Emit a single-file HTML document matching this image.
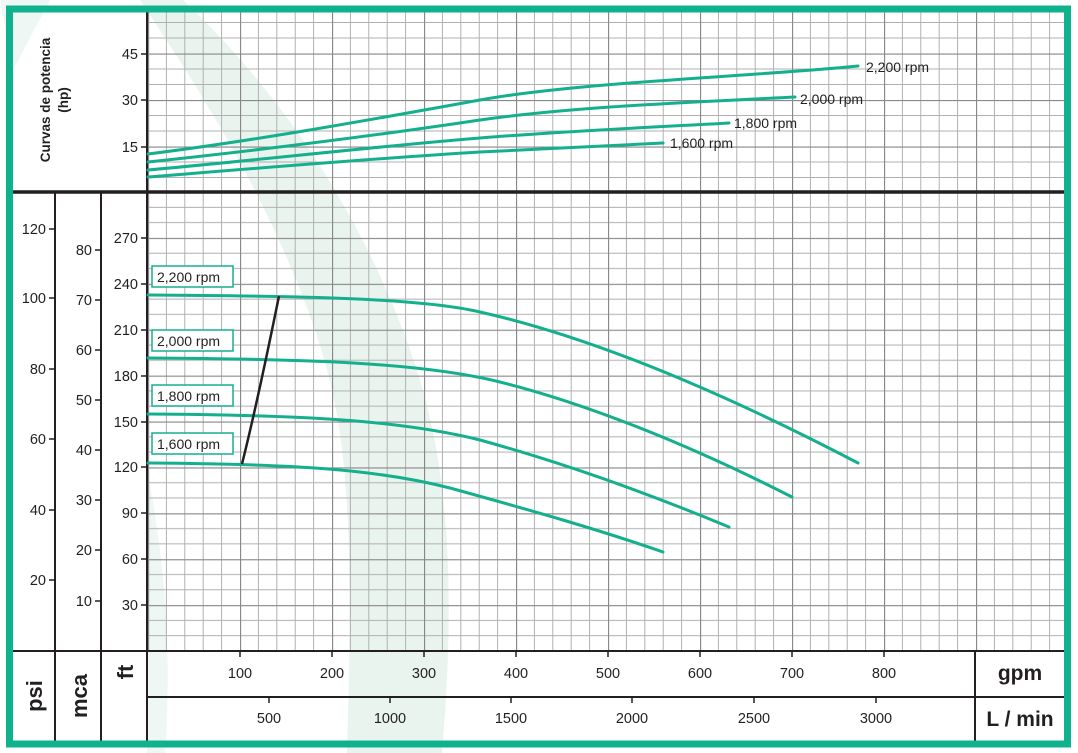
<!DOCTYPE html>
<html><head><meta charset="utf-8"><style>
html,body{margin:0;padding:0;background:#fff}
svg{display:block;font-family:"Liberation Sans",Arial,sans-serif}
</style></head><body>
<svg width="1078" height="753" viewBox="0 0 1078 753" xmlns="http://www.w3.org/2000/svg">
<defs>
<pattern id="gl" x="148" y="651" width="92" height="45.9" patternUnits="userSpaceOnUse">
<g stroke="#b0b0b0" stroke-width="1">
<line x1="18.4" y1="0" x2="18.4" y2="45.9"/><line x1="36.8" y1="0" x2="36.8" y2="45.9"/><line x1="55.2" y1="0" x2="55.2" y2="45.9"/><line x1="73.6" y1="0" x2="73.6" y2="45.9"/>
<line x1="0" y1="15.3" x2="92" y2="15.3"/><line x1="0" y1="30.6" x2="92" y2="30.6"/>
</g>
<g stroke="#888" stroke-width="1.3"><line x1="0.5" y1="0" x2="0.5" y2="45.9"/><line x1="0" y1="0.5" x2="92" y2="0.5"/></g>
</pattern>
<pattern id="gt" x="148" y="193" width="92" height="46.5" patternUnits="userSpaceOnUse">
<g stroke="#b0b0b0" stroke-width="1">
<line x1="18.4" y1="0" x2="18.4" y2="46.5"/><line x1="36.8" y1="0" x2="36.8" y2="46.5"/><line x1="55.2" y1="0" x2="55.2" y2="46.5"/><line x1="73.6" y1="0" x2="73.6" y2="46.5"/>
<line x1="0" y1="15.5" x2="92" y2="15.5"/><line x1="0" y1="31" x2="92" y2="31"/>
</g>
<g stroke="#888" stroke-width="1.3"><line x1="0.5" y1="0" x2="0.5" y2="46.5"/><line x1="0" y1="0.5" x2="92" y2="0.5"/></g>
</pattern>
</defs>
<rect x="0" y="0" width="1078" height="753" fill="#fff"/>
<!-- watermark band -->
<path d="M140 0 C 200 90, 270 200, 315 330 C 345 420, 355 500, 347 753 L 442 753 C 455 600, 450 480, 420 380 C 380 250, 300 110, 183 0 Z" fill="#e9f4ef"/>
<path d="M147 470 C 165 560, 172 650, 165 753 L 147 753 Z" fill="#eef7f3"/>
<path d="M0 0 L 50 0 L 13 70 Z" fill="#eef7f3"/>
<!-- grids -->
<rect x="148" y="12" width="916" height="180" fill="url(#gt)"/>
<rect x="148" y="193" width="916" height="458" fill="url(#gl)"/>
<!-- structure lines -->
<g stroke="#231f20" stroke-width="2" fill="none">
<line x1="147" y1="12" x2="147" y2="741"/>
<line x1="55" y1="192" x2="55" y2="741"/>
<line x1="101" y1="192" x2="101" y2="741"/>
<line x1="13" y1="651" x2="1064" y2="651"/>
<line x1="147" y1="697" x2="1064" y2="697"/>
<line x1="975" y1="651" x2="975" y2="741"/>
</g>
<line x1="13" y1="192" x2="1064" y2="192" stroke="#231f20" stroke-width="3.5"/>
<!-- ticks -->
<g stroke="#231f20" stroke-width="1.5">
<line x1="141" y1="54" x2="147" y2="54"/><line x1="141" y1="100" x2="147" y2="100"/><line x1="141" y1="147" x2="147" y2="147"/>
<line x1="49" y1="229" x2="55" y2="229"/><line x1="49" y1="298" x2="55" y2="298"/><line x1="49" y1="369" x2="55" y2="369"/><line x1="49" y1="439" x2="55" y2="439"/><line x1="49" y1="510" x2="55" y2="510"/><line x1="49" y1="580" x2="55" y2="580"/>
<line x1="95" y1="250" x2="101" y2="250"/><line x1="95" y1="300" x2="101" y2="300"/><line x1="95" y1="350" x2="101" y2="350"/><line x1="95" y1="400" x2="101" y2="400"/><line x1="95" y1="450" x2="101" y2="450"/><line x1="95" y1="500" x2="101" y2="500"/><line x1="95" y1="550" x2="101" y2="550"/><line x1="95" y1="601" x2="101" y2="601"/>
<line x1="141" y1="238" x2="147" y2="238"/><line x1="141" y1="284" x2="147" y2="284"/><line x1="141" y1="330" x2="147" y2="330"/><line x1="141" y1="376" x2="147" y2="376"/><line x1="141" y1="422" x2="147" y2="422"/><line x1="141" y1="467" x2="147" y2="467"/><line x1="141" y1="513" x2="147" y2="513"/><line x1="141" y1="559" x2="147" y2="559"/><line x1="141" y1="605" x2="147" y2="605"/>
<line x1="240" y1="651" x2="240" y2="657"/><line x1="332" y1="651" x2="332" y2="657"/><line x1="424" y1="651" x2="424" y2="657"/><line x1="516" y1="651" x2="516" y2="657"/><line x1="608" y1="651" x2="608" y2="657"/><line x1="700" y1="651" x2="700" y2="657"/><line x1="792" y1="651" x2="792" y2="657"/><line x1="884" y1="651" x2="884" y2="657"/>
<line x1="269" y1="697" x2="269" y2="703"/><line x1="390" y1="697" x2="390" y2="703"/><line x1="511" y1="697" x2="511" y2="703"/><line x1="632" y1="697" x2="632" y2="703"/><line x1="754" y1="697" x2="754" y2="703"/><line x1="876" y1="697" x2="876" y2="703"/>
</g>
<!-- tick labels -->
<g font-size="14.5" fill="#231f20" text-anchor="end">
<text x="138" y="59">45</text><text x="138" y="105">30</text><text x="138" y="152">15</text>
<text x="46" y="234">120</text><text x="46" y="303">100</text><text x="46" y="374">80</text><text x="46" y="444">60</text><text x="46" y="515">40</text><text x="46" y="585">20</text>
<text x="92" y="255">80</text><text x="92" y="305">70</text><text x="92" y="355">60</text><text x="92" y="405">50</text><text x="92" y="455">40</text><text x="92" y="505">30</text><text x="92" y="555">20</text><text x="92" y="606">10</text>
<text x="138" y="243">270</text><text x="138" y="289">240</text><text x="138" y="335">210</text><text x="138" y="381">180</text><text x="138" y="427">150</text><text x="138" y="472">120</text><text x="138" y="518">90</text><text x="138" y="564">60</text><text x="138" y="610">30</text>
</g>
<g font-size="14.5" fill="#231f20" text-anchor="middle">
<text x="240" y="678">100</text><text x="332" y="678">200</text><text x="424" y="678">300</text><text x="516" y="678">400</text><text x="608" y="678">500</text><text x="700" y="678">600</text><text x="792" y="678">700</text><text x="884" y="678">800</text>
<text x="269" y="723">500</text><text x="390" y="723">1000</text><text x="511" y="723">1500</text><text x="632" y="723">2000</text><text x="754" y="723">2500</text><text x="876" y="723">3000</text>
</g>
<g font-weight="bold" fill="#231f20" text-anchor="middle">
<text x="1020" y="680" font-size="21">gpm</text>
<text x="1020" y="726" font-size="21">L / min</text>
<text transform="translate(42,696) rotate(-90)" font-size="22">psi</text>
<text transform="translate(87,696) rotate(-90)" font-size="22">mca</text>
<text transform="translate(133,672) rotate(-90)" font-size="22">ft</text>
<text transform="translate(50,100) rotate(-90)" font-size="13.5">Curvas de potencia</text>
<text transform="translate(68,100) rotate(-90)" font-size="13.5">(hp)</text>
</g>
<!-- curves -->
<g stroke="#14b08e" stroke-width="3" fill="none" stroke-linecap="round">
<path d="M148 295 C 300 296, 420 298, 480 312 C 560 330, 680 370, 858 463"/>
<path d="M148 358 C 300 359, 420 362, 500 382 C 580 402, 680 440, 792 497"/>
<path d="M148 414 C 300 415, 400 420, 480 440 C 560 462, 640 490, 729 527"/>
<path d="M148 463 C 300 464, 380 470, 450 488 C 530 510, 600 530, 663 552"/>
<path d="M148 154 C 260 140, 380 118, 480 100 C 580 82, 760 76, 858 66"/>
<path d="M148 162 C 260 150, 380 135, 480 120 C 580 106, 700 102, 795 97"/>
<path d="M148 170 C 260 160, 380 146, 480 138 C 580 130, 680 126, 729 123"/>
<path d="M148 177 C 260 168, 380 158, 480 152 C 560 148, 620 145, 663 143"/>
</g>
<path d="M242 464 C 258 400, 270 340, 279 296" stroke="#231f20" stroke-width="2.5" fill="none"/>
<!-- rpm labels -->
<g font-size="14" fill="#231f20">
<rect x="152" y="266" width="81" height="21" fill="#fff" stroke="#14b08e" stroke-width="1.5"/><text x="157" y="282">2,200 rpm</text>
<rect x="152" y="330" width="81" height="21" fill="#fff" stroke="#14b08e" stroke-width="1.5"/><text x="157" y="346">2,000 rpm</text>
<rect x="152" y="385" width="81" height="21" fill="#fff" stroke="#14b08e" stroke-width="1.5"/><text x="157" y="401">1,800 rpm</text>
<rect x="152" y="433" width="81" height="21" fill="#fff" stroke="#14b08e" stroke-width="1.5"/><text x="157" y="449">1,600 rpm</text>
<text x="866" y="72">2,200 rpm</text><text x="800" y="104">2,000 rpm</text><text x="734" y="128">1,800 rpm</text><text x="670" y="148">1,600 rpm</text>
</g>
<!-- frame -->
<rect x="9.5" y="9" width="1058" height="735" fill="none" stroke="#0fb28c" stroke-width="7"/>
</svg>
</body></html>
